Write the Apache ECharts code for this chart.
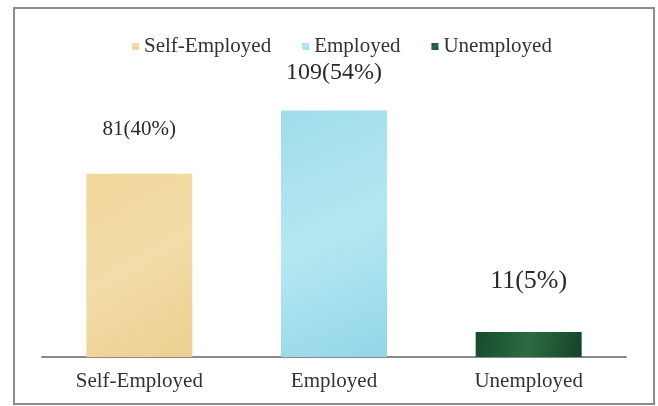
<!DOCTYPE html>
<html>
<head>
<meta charset="utf-8">
<script src="https://cdn.jsdelivr.net/npm/echarts@6/dist/echarts.min.js"></script>
<style>
  html, body { margin: 0; padding: 0; background: #fff; }
  #chart { width: 658px; height: 406px; }
</style>
</head>
<body>
<div id="chart"></div>
<script>
// Employment status of respondents
const categories = ['Self-Employed', 'Employed', 'Unemployed'];
const counts = [81, 109, 11];
const percentLabels = ['40%', '54%', '5%'];

const serif = '"Liberation Serif", "DejaVu Serif", serif';

// fills for each group, light textured look
const fills = [
  new echarts.graphic.LinearGradient(0, 0, 1, 1, [
    { offset: 0, color: '#f0d79c' },
    { offset: 0.5, color: '#f3dca8' },
    { offset: 1, color: '#eccf90' }
  ]),
  new echarts.graphic.LinearGradient(0, 0, 1, 1, [
    { offset: 0, color: '#9fdcea' },
    { offset: 0.5, color: '#b5e8f2' },
    { offset: 1, color: '#92d6e8' }
  ]),
  new echarts.graphic.LinearGradient(0, 0, 1, 1, [
    { offset: 0, color: '#164a2b' },
    { offset: 0.5, color: '#2c6b42' },
    { offset: 1, color: '#14432a' }
  ])
];
const legendColors = ['#efd7a6', '#a9e3ee', '#1d4a33'];
const labelSizes = [21, 24, 26];
const labelGaps = [34, 26, 38];

const series = categories.map((name, i) => ({
  name: name,
  type: 'bar',
  stack: 'all',
  barWidth: 106,
  color: legendColors[i],
  itemStyle: { color: fills[i] },
  data: categories.map((c, j) => (j === i ? counts[i] : '-')),
  label: {
    show: true,
    position: 'top',
    distance: labelGaps[i],
    fontFamily: serif,
    fontSize: labelSizes[i],
    color: '#2a2a2a',
    formatter: () => counts[i] + '(' + percentLabels[i] + ')'
  }
}));

const chart = echarts.init(document.getElementById('chart'));
chart.setOption({
  animation: false,
  backgroundColor: '#fff',
  legend: {
    top: 31,
    left: 127,
    icon: 'rect',
    itemWidth: 7,
    itemHeight: 7,
    itemGap: 31,
    textStyle: { fontFamily: serif, fontSize: 21, color: '#333' },
    data: categories
  },
  grid: { left: 42, right: 32, top: 63, bottom: 49 },
  xAxis: {
    type: 'category',
    data: categories,
    axisLine: { lineStyle: { color: '#8a8a8a', width: 2 } },
    axisTick: { show: false },
    axisLabel: { fontFamily: serif, fontSize: 21, color: '#333', margin: 14 }
  },
  yAxis: {
    type: 'value',
    min: 0,
    max: 130,
    show: false,
    splitLine: { show: false }
  },
  graphic: [{
    type: 'rect',
    shape: { x: 14, y: 8, width: 640, height: 396 },
    style: { fill: 'none', stroke: '#8c8c8c', lineWidth: 2 },
    silent: true
  }],
  series: series
});
</script>
</body>
</html>
